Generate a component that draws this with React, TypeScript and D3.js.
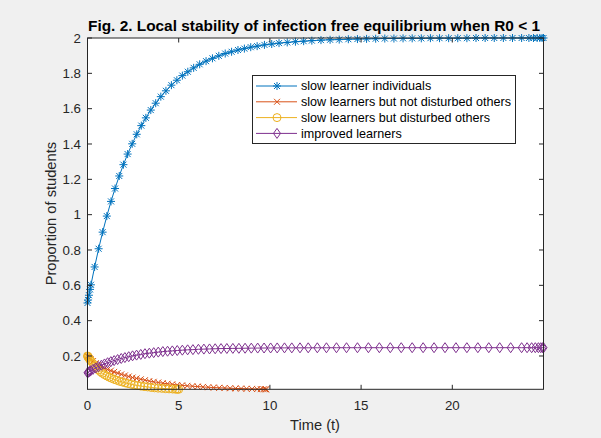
import React, { useRef, useEffect } from 'react'
import * as d3 from 'd3'

// slow learner individuals
const blueT = [0, 0.03, 0.08, 0.14, 0.19, 0.39, 0.61, 0.83, 1.06, 1.29, 1.51, 1.74, 1.97, 2.2, 2.45, 2.7, 2.95, 3.2, 3.47, 3.74, 4.02, 4.3, 4.6, 4.9, 5.2, 5.5, 5.82, 6.15, 6.5, 6.85, 7.2, 7.55, 7.9, 8.25, 8.6, 8.95, 9.3, 9.7, 10.1, 10.5, 10.95, 11.4, 11.85, 12.3, 12.8, 13.3, 13.8, 14.3, 14.8, 15.3, 15.8, 16.3, 16.8, 17.3, 17.8, 18.3, 18.8, 19.3, 19.8, 20.3, 20.8, 21.3, 21.8, 22.3, 22.8, 23.3, 23.8, 24.2, 24.45, 24.65, 24.8, 24.92, 25]
const blueY = [0.5, 0.517, 0.544, 0.577, 0.603, 0.704, 0.807, 0.901, 0.992, 1.075, 1.148, 1.219, 1.283, 1.343, 1.401, 1.455, 1.504, 1.548, 1.592, 1.631, 1.668, 1.701, 1.733, 1.761, 1.787, 1.809, 1.831, 1.851, 1.869, 1.885, 1.899, 1.912, 1.922, 1.932, 1.94, 1.948, 1.954, 1.961, 1.966, 1.971, 1.975, 1.979, 1.982, 1.985, 1.988, 1.99, 1.991, 1.993, 1.994, 1.995, 1.996, 1.997, 1.997, 1.998, 1.998, 1.998, 1.999, 1.999, 1.999, 1.999, 1.999, 2, 2, 2, 2, 2, 2, 2, 2, 2, 2, 2, 2]

// slow learners but not disturbed others
const orangeT = [0, 0.02, 0.06, 0.11, 0.17, 0.3, 0.45, 0.6, 0.76, 0.93, 1.1, 1.28, 1.46, 1.65, 1.85, 2.05, 2.26, 2.47, 2.69, 2.92, 3.15, 3.39, 3.63, 3.88, 4.13, 4.39, 4.65, 4.92, 5.19, 5.47, 5.75, 6.04, 6.33, 6.62, 6.92, 7.22, 7.52, 7.82, 8.12, 8.42, 8.72, 9.02, 9.3, 9.5, 9.65, 9.75, 9.8]
const orangeY = [0.2, 0.198, 0.194, 0.189, 0.183, 0.171, 0.159, 0.149, 0.14, 0.131, 0.124, 0.117, 0.11, 0.103, 0.096, 0.09, 0.084, 0.078, 0.073, 0.068, 0.063, 0.058, 0.054, 0.05, 0.046, 0.043, 0.04, 0.036, 0.034, 0.031, 0.029, 0.027, 0.025, 0.023, 0.0215, 0.02, 0.019, 0.0175, 0.0165, 0.0155, 0.0146, 0.0137, 0.013, 0.0124, 0.012, 0.0117, 0.0115]

// slow learners but disturbed others
const yellowT = [0, 0.02, 0.05, 0.09, 0.14, 0.2, 0.3, 0.4, 0.5, 0.6, 0.71, 0.82, 0.94, 1.06, 1.19, 1.32, 1.46, 1.6, 1.75, 1.9, 2.06, 2.22, 2.39, 2.56, 2.74, 2.92, 3.1, 3.29, 3.48, 3.67, 3.87, 4.07, 4.27, 4.47, 4.67, 4.82, 4.92, 5.0]
const yellowY = [0.2, 0.197, 0.192, 0.186, 0.178, 0.171, 0.157, 0.144, 0.132, 0.121, 0.111, 0.102, 0.094, 0.087, 0.08, 0.074, 0.068, 0.063, 0.057, 0.053, 0.048, 0.044, 0.04, 0.036, 0.033, 0.03, 0.027, 0.025, 0.022, 0.02, 0.018, 0.017, 0.015, 0.014, 0.013, 0.012, 0.0117, 0.0115]

// improved learners
const purpleT = [0, 0.03, 0.07, 0.12, 0.18, 0.3, 0.45, 0.6, 0.76, 0.93, 1.1, 1.28, 1.46, 1.65, 1.85, 2.05, 2.26, 2.47, 2.69, 2.92, 3.15, 3.39, 3.63, 3.88, 4.13, 4.39, 4.65, 4.92, 5.2, 5.49, 5.78, 6.08, 6.38, 6.69, 7.0, 7.32, 7.64, 7.97, 8.3, 8.64, 8.98, 9.33, 9.68, 10.04, 10.4, 10.8, 11.2, 11.65, 12.1, 12.6, 13.1, 13.65, 14.2, 14.8, 15.4, 16.0, 16.6, 17.2, 17.8, 18.4, 19.0, 19.6, 20.2, 20.8, 21.4, 22.0, 22.6, 23.2, 23.8, 24.1, 24.35, 24.55, 24.72, 24.85, 24.95, 25]
const purpleY = [0.105, 0.107, 0.11, 0.113, 0.117, 0.124, 0.132, 0.14, 0.148, 0.155, 0.162, 0.168, 0.174, 0.18, 0.186, 0.191, 0.196, 0.201, 0.205, 0.209, 0.213, 0.216, 0.219, 0.222, 0.225, 0.227, 0.229, 0.231, 0.233, 0.235, 0.236, 0.238, 0.239, 0.24, 0.241, 0.242, 0.2425, 0.243, 0.2435, 0.244, 0.2445, 0.245, 0.2452, 0.2455, 0.2458, 0.246, 0.246, 0.2462, 0.2464, 0.2465, 0.2466, 0.2467, 0.2468, 0.2468, 0.2469, 0.2469, 0.247, 0.247, 0.247, 0.247, 0.247, 0.247, 0.247, 0.247, 0.247, 0.247, 0.247, 0.247, 0.247, 0.247, 0.247, 0.247, 0.247, 0.247, 0.247, 0.247]

const legendLabels = ['slow learner individuals', 'slow learners but not disturbed others', 'slow learners but disturbed others', 'improved learners']
const xTicks = [0, 5, 10, 15, 20]
const yTicks = [0.2, 0.4, 0.6, 0.8, 1, 1.2, 1.4, 1.6, 1.8, 2]

const W = 601
const H = 438
const FONT = 'Liberation Sans, Arial, Helvetica, sans-serif'
const AX = '#262626'

const markerPaths: Record<string, string> = {
  star: 'M-4,0H4M0,-4V4M-3,-3L3,3M-3,3L3,-3',
  cross: 'M-3,-3L3,3M-3,3L3,-3',
  circle: 'M-4,0A4,4 0 1,0 4,0A4,4 0 1,0 -4,0Z',
  diamond: 'M0,-5L3.5,0L0,5L-3.5,0Z',
}

const series = [
  { t: blueT, y: blueY, color: '#0072BD', marker: 'star' },
  { t: orangeT, y: orangeY, color: '#D95319', marker: 'cross' },
  { t: yellowT, y: yellowY, color: '#EDB120', marker: 'circle' },
  { t: purpleT, y: purpleY, color: '#7E2F8E', marker: 'diamond' },
]

const App = () => {
  const svgRef = useRef<SVGSVGElement>(null)

  useEffect(() => {
    const svg = d3.select(svgRef.current)
    svg.selectAll('*').remove()

    const left = 87.5, right = 543.5, top = 38, bottom = 389.3

    const x = d3.scaleLinear().domain([0, 25]).range([left, right])
    const y = d3.scaleLinear().domain([0.0115, 2]).range([bottom, top])

    svg.append('rect').attr('width', W).attr('height', H).attr('fill', '#f0f0f0')
    svg.append('rect')
      .attr('x', left).attr('y', top)
      .attr('width', right - left).attr('height', bottom - top)
      .attr('fill', '#fff')

    // the curves
    series.forEach(s => {
      const pts = s.t.map((t, i) => [x(t), y(s.y[i])] as [number, number])
      const g = svg.append('g')
      g.append('path')
        .attr('d', d3.line()(pts))
        .attr('fill', 'none')
        .attr('stroke', s.color)
        .attr('stroke-width', 1)
      g.selectAll('.m')
        .data(pts)
        .join('path')
        .attr('class', 'm')
        .attr('transform', d => `translate(${d[0]},${d[1]})`)
        .attr('d', markerPaths[s.marker])
        .attr('fill', 'none')
        .attr('stroke', s.color)
        .attr('stroke-width', 1)
    })

    // axes box and ticks
    const ax = svg.append('g').attr('stroke', AX).attr('stroke-width', 1)
    ax.append('rect')
      .attr('x', left).attr('y', top)
      .attr('width', right - left).attr('height', bottom - top)
      .attr('fill', 'none')
    const tk = 4.5
    xTicks.forEach(v => {
      ax.append('line').attr('x1', x(v)).attr('x2', x(v)).attr('y1', bottom).attr('y2', bottom - tk)
      ax.append('line').attr('x1', x(v)).attr('x2', x(v)).attr('y1', top).attr('y2', top + tk)
    })
    yTicks.forEach(v => {
      ax.append('line').attr('x1', left).attr('x2', left + tk).attr('y1', y(v)).attr('y2', y(v))
      ax.append('line').attr('x1', right).attr('x2', right - tk).attr('y1', y(v)).attr('y2', y(v))
    })

    svg.append('g').selectAll('text')
      .data(xTicks)
      .join('text')
      .attr('x', d => x(d)).attr('y', 409.5)
      .attr('text-anchor', 'middle')
      .attr('font-family', FONT).attr('font-size', 13.3).attr('fill', AX)
      .text(d => d)

    svg.append('g').selectAll('text')
      .data(yTicks)
      .join('text')
      .attr('x', 81).attr('y', d => y(d))
      .attr('dy', '0.35em')
      .attr('text-anchor', 'end')
      .attr('font-family', FONT).attr('font-size', 13.3).attr('fill', AX)
      .text(d => d)

    // labels
    svg.append('text')
      .attr('x', 314).attr('y', 31)
      .attr('text-anchor', 'middle')
      .attr('font-family', FONT).attr('font-size', 15.4).attr('font-weight', 'bold').attr('fill', '#000')
      .text('Fig. 2. Local stability of infection free equilibrium when R0 < 1')

    svg.append('text')
      .attr('x', 315).attr('y', 430)
      .attr('text-anchor', 'middle')
      .attr('font-family', FONT).attr('font-size', 14.67).attr('fill', AX)
      .text('Time (t)')

    svg.append('text')
      .attr('transform', `translate(56,${(top + bottom) / 2}) rotate(-90)`)
      .attr('text-anchor', 'middle')
      .attr('font-family', FONT).attr('font-size', 14.67).attr('fill', AX)
      .text('Proportion of students')

    // legend
    const lg = svg.append('g')
    lg.append('rect')
      .attr('x', 252.5).attr('y', 75.5).attr('width', 263).attr('height', 68)
      .attr('fill', '#fff').attr('stroke', AX).attr('stroke-width', 1)
    series.forEach((s, i) => {
      const ly = 86 + i * 15.8
      lg.append('line')
        .attr('x1', 256).attr('x2', 297).attr('y1', ly).attr('y2', ly)
        .attr('stroke', s.color).attr('stroke-width', 1)
      lg.append('path')
        .attr('transform', `translate(277,${ly})`)
        .attr('d', markerPaths[s.marker])
        .attr('fill', 'none').attr('stroke', s.color).attr('stroke-width', 1)
      lg.append('text')
        .attr('x', 301).attr('y', ly).attr('dy', '0.35em')
        .attr('font-family', FONT).attr('font-size', 12.6).attr('fill', '#000')
        .text(legendLabels[i])
    })
  }, [])

  return (
    <div style={{ position: 'absolute', left: 0, top: 0 }}>
      <svg ref={svgRef} width={W} height={H} style={{ display: 'block' }}></svg>
    </div>
  )
}

export default App
